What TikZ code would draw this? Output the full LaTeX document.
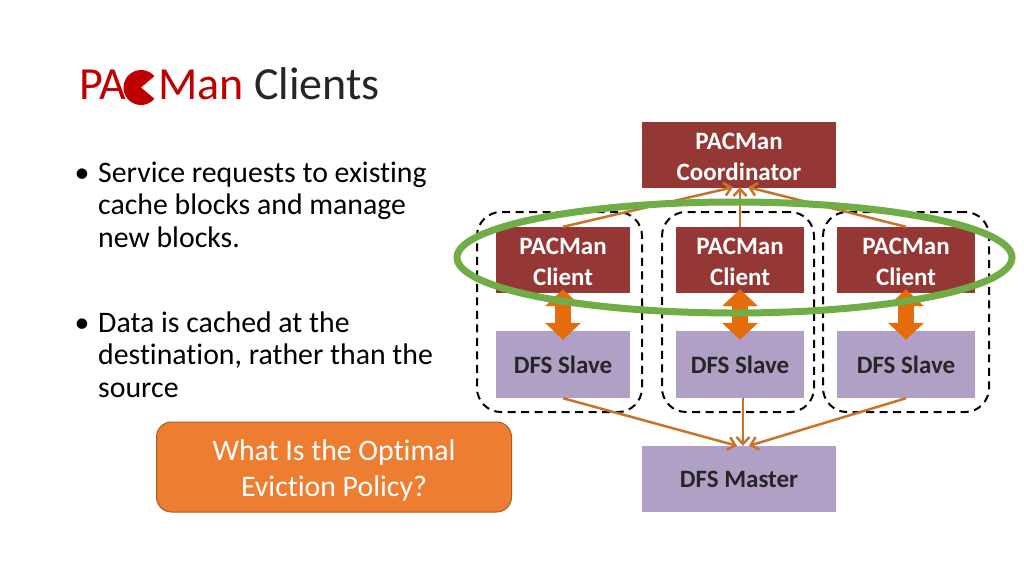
\documentclass[tikz,border=0pt]{standalone}
\usepackage{fontspec}
\setmainfont{Carlito}[Ligatures=NoCommon]
\usetikzlibrary{arrows.meta,shapes.geometric}

\definecolor{titlered}{HTML}{C00000}
\definecolor{titlegray}{HTML}{262626}
\definecolor{boxred}{HTML}{953735}
\definecolor{boxpurple}{HTML}{B1A0C6}
\definecolor{linkorange}{HTML}{C9722A}
\definecolor{fatorange}{HTML}{E46C0A}
\definecolor{ringgreen}{HTML}{70AD47}
\definecolor{noteorange}{HTML}{ED7D31}
\definecolor{noteedge}{HTML}{AE5A21}

\tikzset{
	titletext/.style={anchor=base west,inner sep=0pt,font=\fontsize{46}{46}\selectfont},
	bodytext/.style={anchor=base west,inner sep=0pt,align=left,font=\fontsize{29.8}{32.5}\selectfont},
	redbox/.style={fill=boxred,text=white,inner sep=0pt,align=center,font=\fontsize{25}{30.5}\selectfont\bfseries},
	purplebox/.style={fill=boxpurple,text=black!85,inner sep=0pt,align=center,font=\fontsize{25}{30}\selectfont\bfseries},
	group/.style={draw=black,line width=2pt,dash pattern=on 8pt off 5.5pt,rounded corners=24pt,inner sep=0pt},
	link/.style={draw=linkorange,line width=2.5pt,-{Straight Barb[length=7pt,width=13pt]}},
	fatlink/.style={draw=fatorange,line width=16pt,{Triangle[length=17pt,width=35pt]}-{Triangle[length=17pt,width=35pt]},shorten <=-4pt,shorten >=-9pt},
}

\begin{document}
\begin{tikzpicture}[x=1pt,y=-1pt]
	\useasboundingbox (0,0) rectangle (1024,576);

	\node[titletext,text=titlered] (pa) at (79,99.5) {PA};
	\fill[titlered] (141,87.5) -- ++(40:17.5) arc (40:320:17.5) -- cycle;
	\node[titletext,text=titlered] (man) at (158,99.5) {Man};
	\node[titletext,text=titlegray] (clients) at (254,99.5) {Clients};

	\node[bodytext] (bulletone) at (74.5,182) {\textbullet};
	\node[bodytext] (textone) at (98,247) {Service requests to existing\\cache blocks and manage\\new blocks.};
	\node[bodytext] (bullettwo) at (74.5,332) {\textbullet};
	\node[bodytext] (texttwo) at (98,397) {Data is cached at the\\destination, rather than the\\source};

	\node[draw=noteedge,fill=noteorange,text=white,line width=1pt,rounded corners=15pt,minimum width=355pt,minimum height=90pt,inner sep=0pt,align=center,font=\fontsize{29.8}{36}\selectfont] (policy) at (334,467) {\rule{0pt}{27pt}What Is the Optimal\\Eviction Policy?};

	\node[group,minimum width=165pt,minimum height=200pt] (groupa) at (559.5,312) {};
	\node[group,minimum width=152pt,minimum height=200pt] (groupb) at (738,312) {};
	\node[group,minimum width=166pt,minimum height=200pt] (groupc) at (906,312) {};

	\node[redbox,minimum width=194pt,minimum height=66pt] (coordinator) at (739,155) {\rule{0pt}{20pt}PACMan\\Coordinator};
	\node[redbox,minimum width=134pt,minimum height=66pt] (clienta) at (563,260) {\rule{0pt}{20pt}PACMan\\Client};
	\node[redbox,minimum width=128pt,minimum height=66pt] (clientb) at (740,260) {\rule{0pt}{20pt}PACMan\\Client};
	\node[redbox,minimum width=138pt,minimum height=66pt] (clientc) at (906,260) {\rule{0pt}{20pt}PACMan\\Client};
	\node[purplebox,minimum width=134pt,minimum height=67pt] (slavea) at (563,364.5) {DFS Slave};
	\node[purplebox,minimum width=128pt,minimum height=67pt] (slaveb) at (740,364.5) {DFS Slave};
	\node[purplebox,minimum width=138pt,minimum height=67pt] (slavec) at (906,364.5) {DFS Slave};
	\node[purplebox,minimum width=194pt,minimum height=66pt] (master) at (739,479) {DFS Master};

	\draw[link] (clienta.north) -- ([xshift=-6pt,yshift=1pt]coordinator.south);
	\draw[link] (clientb.north) -- ([xshift=1pt,yshift=1pt]coordinator.south);
	\draw[link] (clientc.north) -- ([xshift=9pt,yshift=1pt]coordinator.south);
	\draw[link] (slavea.south) -- ([xshift=-2pt]master.north);
	\draw[link] ([xshift=3pt]slaveb.south) -- ([xshift=4pt]master.north);
	\draw[link] (slavec.south) -- ([xshift=10pt]master.north);

	\draw[fatlink] (clienta.south) -- (slavea.north);
	\draw[fatlink] (clientb.south) -- (slaveb.north);
	\draw[fatlink] (clientc.south) -- (slavec.north);

	\node[ellipse,draw=ringgreen,line width=7pt,minimum width=555pt,minimum height=111pt,inner sep=0pt] (ring) at (734.5,257.5) {};
\end{tikzpicture}
\end{document}
